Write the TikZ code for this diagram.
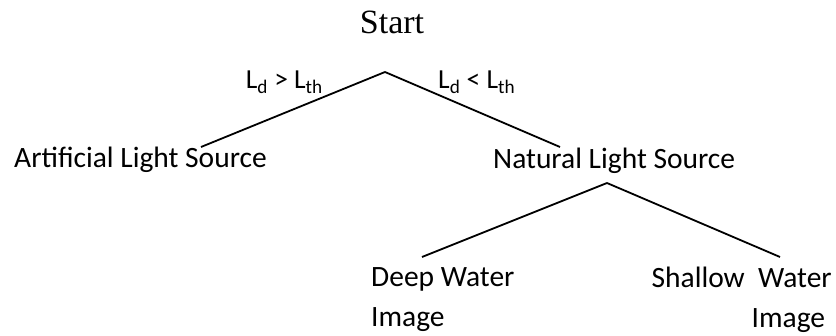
\documentclass[tikz,border=0pt]{standalone}
\usepackage{fontspec}
\setmainfont{Carlito}
\newfontfamily\startfont{Liberation Serif}
\usetikzlibrary{positioning}

\begin{document}
\begin{tikzpicture}[x=1pt,y=-1pt,
    leaf/.style={inner sep=0pt,font=\fontsize{29.5}{40}\selectfont},
    cond/.style={inner sep=0pt,font=\fontsize{27.5}{30}\selectfont},
    branch/.style={line width=1.8pt}
  ]
  \useasboundingbox (0,0) rectangle (836,336);

  \node[inner sep=0pt,font=\startfont\fontsize{34}{40}\selectfont,anchor=base] (start) at (392,34) {Start};
  \coordinate (top) at (385,72);

  \node[cond,anchor=base east] (gt) at (323,89) {L\textsubscript{d} > L\textsubscript{th}};
  \node[cond,anchor=base west] (lt) at (438,89) {L\textsubscript{d} < L\textsubscript{th}};

  \node[leaf,anchor=base west] (art) at (14,168) {Artificial Light Source};
  \node[leaf,anchor=base west] (nat) at (493,169) {Natural Light Source};

  % base = last line here
  \node[leaf,anchor=base west,align=left] (deep) at (371,327) {Deep Water\\Image};
  \node[leaf,anchor=base east,align=right] (shallow) at (832,328) {Shallow~ Water\\Image~~};

  % branches
  \draw[branch] (top) -- ([shift={(187,-21)}]art.base west);
  \draw[branch] (top) -- ([shift={(67,-22)}]nat.base west);
  \draw[branch] ([shift={(114,14)}]nat.base west) -- ([shift={(51,-70)}]deep.base west);
  \draw[branch] ([shift={(114,14)}]nat.base west) -- ([shift={(-52,-71)}]shallow.base east);

\end{tikzpicture}
\end{document}
